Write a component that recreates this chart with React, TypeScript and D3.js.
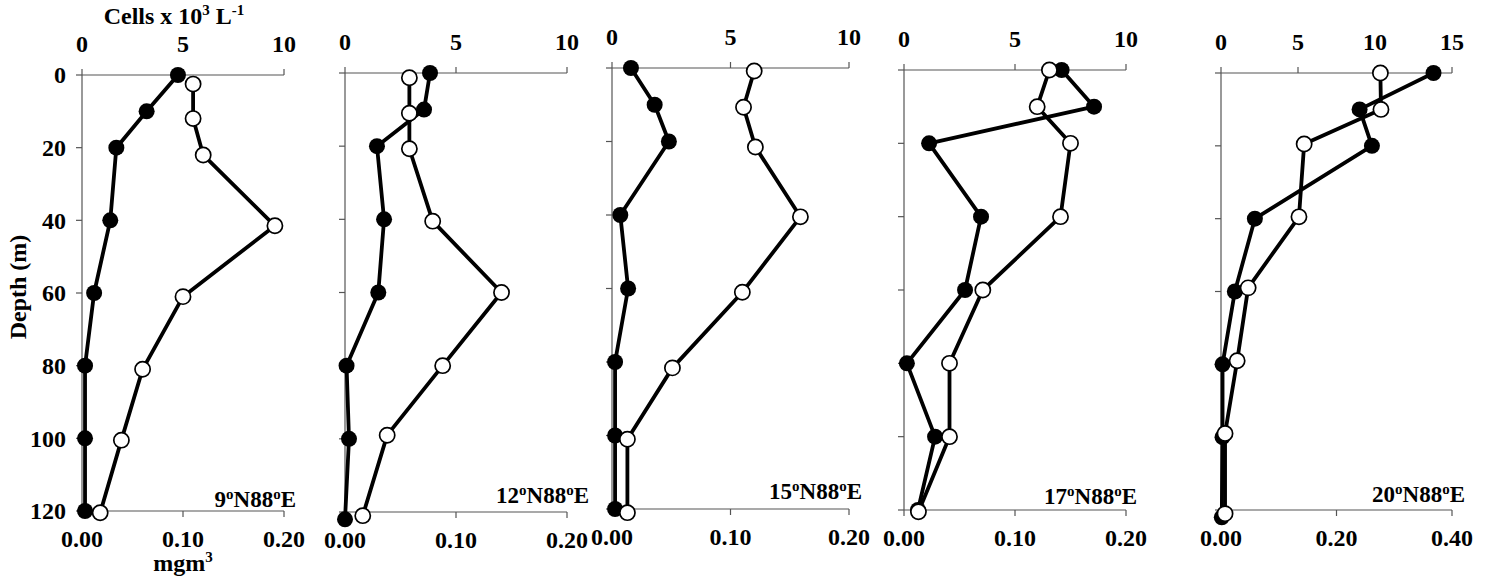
import React from 'react';
import * as d3 from 'd3';

// station names (latitude, all at 88E)
const stations = ['9', '12', '15', '17', '20'];

// top axis: Cells x 10^3 L^-1, bottom axis: mg m^-3
const topMax = [10, 10, 10, 10, 15];
const topTicks = [[0, 5, 10], [0, 5, 10], [0, 5, 10], [0, 5, 10], [0, 5, 10, 15]];
const botMax = [0.2, 0.2, 0.2, 0.2, 0.4];
const botTicks = [[0, 0.1, 0.2], [0, 0.1, 0.2], [0, 0.1, 0.2], [0, 0.1, 0.2], [0, 0.2, 0.4]];
const depthTicks = [0, 20, 40, 60, 80, 100, 120];

// filled circles: cell counts
const cellDepth9 = [0, 10, 20, 40, 60, 80, 100, 120];
const cells9 = [4.75, 3.2, 1.7, 1.4, 0.6, 0.15, 0.15, 0.15];
const cellDepth12 = [0, 10, 20, 40, 60, 80, 100, 122];
const cells12 = [3.83, 3.56, 1.44, 1.76, 1.5, 0.07, 0.18, 0.0];
const cellDepth15 = [0, 10, 20, 40, 60, 80, 100, 120];
const cells15 = [0.8, 1.8, 2.4, 0.35, 0.68, 0.13, 0.13, 0.13];
const cellDepth17 = [0, 10, 20, 40, 60, 80, 100, 120];
const cells17 = [7.1, 8.56, 1.13, 3.47, 2.75, 0.13, 1.4, 0.63];
const cellDepth20 = [0, 10, 20, 40, 60, 80, 100, 122];
const cells20 = [13.8, 9.0, 9.8, 2.2, 0.9, 0.1, 0.1, 0.05];

// open circles: mg m^-3
const chlDepth9 = [2.5, 12, 22, 41.5, 61, 81, 100.5, 120.5];
const chl9 = [0.11, 0.11, 0.12, 0.191, 0.1, 0.06, 0.039, 0.018];
const chlDepth12 = [1.3, 11, 20.7, 40.5, 60, 80, 99, 121];
const chl12 = [0.058, 0.058, 0.058, 0.079, 0.141, 0.088, 0.038, 0.016];
const chlDepth15 = [0.8, 10.7, 21.5, 40.5, 61, 81.6, 101, 121];
const chl15 = [0.12, 0.111, 0.121, 0.159, 0.11, 0.051, 0.013, 0.013];
const chlDepth17 = [0, 10, 20, 40, 60, 80, 100, 120.5];
const chl17 = [0.131, 0.12, 0.15, 0.141, 0.071, 0.041, 0.041, 0.013];
const chlDepth20 = [0, 10, 19.5, 39.5, 59, 79, 99, 121];
const chl20 = [0.276, 0.277, 0.144, 0.135, 0.047, 0.028, 0.007, 0.007];

const cellDepths = [cellDepth9, cellDepth12, cellDepth15, cellDepth17, cellDepth20];
const cellVals = [cells9, cells12, cells15, cells17, cells20];
const chlDepths = [chlDepth9, chlDepth12, chlDepth15, chlDepth17, chlDepth20];
const chlVals = [chl9, chl12, chl15, chl17, chl20];

// panel frames in pixels
const frames = [
  { x0: 82, x1: 284, y0: 75, y1: 511, lx: 296, ly: 507 },
  { x0: 345, x1: 567, y0: 73, y1: 512, lx: 589, ly: 503 },
  { x0: 612, x1: 849, y0: 68, y1: 509, lx: 862, ly: 499 },
  { x0: 904, x1: 1126, y0: 70, y1: 510, lx: 1137, ly: 504 },
  { x0: 1221, x1: 1452, y0: 73, y1: 510, lx: 1465, ly: 502 },
];

const AXIS = '#555';
const FONT = 'Liberation Serif';
const FS = 24;

function Panel({ i }: { i: number }) {
  const f = frames[i];
  const xTop = d3.scaleLinear().domain([0, topMax[i]]).range([f.x0, f.x1]);
  const xBot = d3.scaleLinear().domain([0, botMax[i]]).range([f.x0, f.x1]);
  const y = d3.scaleLinear().domain([0, 120]).range([f.y0, f.y1]);

  const cellPts = cellVals[i].map((v, k) => [xTop(v), y(cellDepths[i][k])] as [number, number]);
  const chlPts = chlVals[i].map((v, k) => [xBot(v), y(chlDepths[i][k])] as [number, number]);
  const line = d3.line();

  return (
    <g>
      {/* axes */}
      <line x1={f.x0} x2={f.x1} y1={f.y0} y2={f.y0} stroke={AXIS} strokeWidth={1.2} />
      <line x1={f.x0} x2={f.x1} y1={f.y1} y2={f.y1} stroke={AXIS} strokeWidth={1.2} />
      <line x1={f.x0} x2={f.x0} y1={f.y0} y2={f.y1} stroke={AXIS} strokeWidth={1.2} />
      {topTicks[i].map((t) => (
        <g key={'t' + t}>
          <line x1={xTop(t)} x2={xTop(t)} y1={f.y0} y2={f.y0 - 6} stroke={AXIS} strokeWidth={1.2} />
          <text x={xTop(t)} y={f.y0 - 23} textAnchor="middle" fontSize={FS} fontFamily={FONT} fontWeight="bold">
            {t}
          </text>
        </g>
      ))}
      {botTicks[i].map((t) => (
        <g key={'b' + t}>
          <line x1={xBot(t)} x2={xBot(t)} y1={f.y1} y2={f.y1 + 6} stroke={AXIS} strokeWidth={1.2} />
          <text x={xBot(t)} y={f.y1 + 36} textAnchor="middle" fontSize={FS} fontFamily={FONT} fontWeight="bold">
            {d3.format('.2f')(t)}
          </text>
        </g>
      ))}
      {depthTicks.map((t) => (
        <g key={'d' + t}>
          <line x1={f.x0 - 6} x2={f.x0} y1={y(t)} y2={y(t)} stroke={AXIS} strokeWidth={1.2} />
          {i === 0 && (
            <text
              x={f.x0 - 16}
              y={y(t)}
              dy="0.35em"
              textAnchor="end"
              fontSize={FS}
              fontFamily={FONT}
              fontWeight="bold"
            >
              {t}
            </text>
          )}
        </g>
      ))}

      {/* profiles */}
      <path d={line(cellPts) || ''} fill="none" stroke="#000" strokeWidth={3.8} strokeLinejoin="round" />
      <path d={line(chlPts) || ''} fill="none" stroke="#000" strokeWidth={3.8} strokeLinejoin="round" />
      {cellPts.map((p, k) => (
        <circle key={'c' + k} cx={p[0]} cy={p[1]} r={8} fill="#000" />
      ))}
      {chlPts.map((p, k) => (
        <circle key={'o' + k} cx={p[0]} cy={p[1]} r={7.6} fill="#fff" stroke="#000" strokeWidth={1.7} />
      ))}

      {/* station label */}
      <text x={f.lx} y={f.ly} textAnchor="end" fontSize={23} fontFamily={FONT} fontWeight="bold">
        {stations[i]}
        <tspan fontSize={15} dy={-8}>o</tspan>
        <tspan dy={8}>N88</tspan>
        <tspan fontSize={15} dy={-8}>o</tspan>
        <tspan dy={8}>E</tspan>
      </text>
    </g>
  );
}

export default function App() {
  return (
    <svg width={1489} height={579} style={{ position: 'absolute', left: 0, top: 0, background: '#fff' }}>
      <text x={174} y={24} textAnchor="middle" fontSize={FS} fontFamily={FONT} fontWeight="bold">
        Cells x 10
        <tspan fontSize={15} dy={-9}>3</tspan>
        <tspan dy={9}> L</tspan>
        <tspan fontSize={15} dy={-9}>-1</tspan>
      </text>
      <text
        transform="translate(26,287) rotate(-90)"
        textAnchor="middle"
        fontSize={FS}
        fontFamily={FONT}
        fontWeight="bold"
      >
        Depth (m)
      </text>
      <text x={183} y={571} textAnchor="middle" fontSize={FS} fontFamily={FONT} fontWeight="bold">
        mgm
        <tspan fontSize={15} dy={-9}>3</tspan>
      </text>
      {stations.map((s, i) => (
        <Panel key={s} i={i} />
      ))}
    </svg>
  );
}
